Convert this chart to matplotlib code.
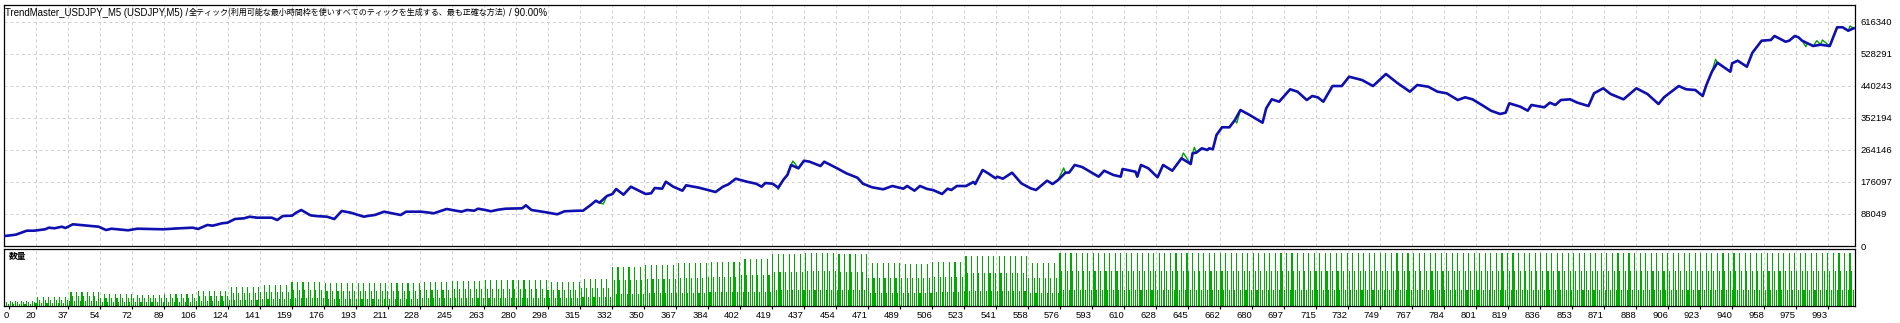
import numpy as np
import matplotlib
matplotlib.use("Agg")
import matplotlib.pyplot as plt

plt.rcParams['font.family'] = ['Liberation Sans', 'DejaVu Sans']

# balance curve (trade no, balance)
trades = [3, 9, 15, 19, 25, 27, 30, 34, 36, 40, 46, 54, 58, 61, 70, 75, 82, 89, 98, 105,
          108, 113, 116, 121, 124, 128, 133, 136, 140, 148, 151, 154, 159, 161, 164, 169, 172, 178, 182, 186,
          191, 198, 201, 204, 209, 218, 221, 229, 232, 236, 243, 249, 251, 254, 258, 260, 264, 267, 271, 275,
          284, 286, 289, 297, 303, 307, 314, 317, 321, 324, 326, 330, 333, 335, 339, 343, 351, 354, 356, 360,
          362, 366, 371, 373, 380, 389, 393, 396, 400, 406, 411, 414, 416, 420, 423, 426, 428, 430, 434, 437,
          440, 446, 448, 455, 460, 466, 469, 474, 480, 485, 491, 493, 497, 500, 504, 507, 512, 515, 517, 520,
          525, 529, 530, 534, 537, 541, 542, 545, 550, 555, 560, 563, 569, 572, 575, 579, 581, 584, 588, 597,
          600, 605, 609, 610, 617, 618, 620, 624, 629, 632, 637, 642, 647, 648, 650, 653, 656, 657, 659, 661,
          664, 668, 671, 674, 679, 686, 688, 691, 695, 701, 705, 710, 713, 716, 719, 724, 729, 733, 740, 746,
          753, 759, 766, 770, 776, 781, 786, 792, 796, 800, 806, 810, 815, 818, 820, 826, 830, 832, 837, 839,
          842, 845, 848, 853, 857, 863, 866, 871, 875, 882, 889, 895, 901, 904, 912, 916, 921, 925, 927, 930,
          933, 940, 941, 944, 949, 952, 957, 962, 964, 970, 972, 975, 977, 979, 982, 985, 989, 994, 998, 1001,
          1004, 1007]
balance = [27500, 31100, 42100, 42100, 46000, 50400, 48700, 53100, 49500, 59700, 57000, 53100, 44000, 47600, 43200, 47600, 46800, 46000, 48700, 50400,
           46800, 57800, 55900, 62500, 64100, 74300, 76200, 80600, 77900, 77900, 71500, 82500, 83400, 90800, 99100, 84500, 82500, 80600, 74300, 96300,
           91600, 80600, 83400, 85300, 94400, 85300, 94400, 94400, 92700, 90000, 101800, 96300, 94400, 99100, 97100, 102600, 99100, 95500, 99900, 102600,
           103700, 112000, 99100, 92700, 87200, 95500, 97100, 97100, 112000, 124600, 119100, 137600, 143100, 156800, 141200, 163200, 143100, 145000, 159600, 157700,
           176900, 163200, 152200, 167000, 160400, 148600, 163200, 169800, 185200, 176900, 171400, 163200, 173300, 171400, 160400, 183500, 195400, 222900, 213800, 234700,
           232000, 220100, 232000, 213800, 200000, 187900, 171400, 161500, 156000, 165100, 157700, 165100, 152200, 165100, 156800, 154100, 143100, 157700, 154100, 165100,
           165100, 176100, 170600, 209100, 200000, 186300, 190700, 185200, 201700, 172500, 158800, 154100, 179700, 170600, 181600, 201700, 202200, 222900, 217400, 190700,
           207200, 195400, 190700, 211900, 204400, 190700, 222900, 213800, 189000, 222900, 207200, 241300, 225600, 255100, 256700, 268800, 264100, 268800, 266100, 305400,
           326600, 326600, 346700, 374200, 360400, 339300, 378900, 403600, 397000, 431200, 424600, 401700, 412700, 409100, 397000, 440200, 440200, 465800, 456700, 440200,
           473300, 449300, 424600, 443000, 438300, 424600, 420200, 401700, 409100, 403600, 385200, 372300, 363200, 366800, 392600, 383300, 372300, 388000, 383300, 381600,
           394300, 388000, 401700, 403600, 394300, 385200, 420200, 433900, 418200, 403600, 433900, 418200, 390700, 409100, 440200, 431200, 429200, 412700, 443000, 479600,
           504300, 479600, 502700, 509900, 493300, 531900, 564900, 566800, 577800, 562100, 564900, 577800, 574200, 564900, 557700, 550300, 553900, 550300, 601800, 601800,
           592400, 599000]

# equity excursions that show up as green spikes
spike_trades = [328, 423, 431, 578, 643, 649, 672, 932, 981, 987, 990, 1005]
spike_values = [115600, 156000, 233900, 214600, 255900, 271600, 338400, 513700, 548400, 564900, 566800, 605300]

# tallest lot bar per label interval, and the lot cycle of the grid
vol_peak = [0.05, 0.09, 0.14, 0.12, 0.11, 0.12, 0.15, 0.19, 0.21, 0.24, 0.23, 0.23, 0.23, 0.24, 0.25, 0.26,
            0.26, 0.24, 0.27, 0.39, 0.41, 0.43, 0.44, 0.47, 0.52, 0.53, 0.52, 0.43, 0.42, 0.44, 0.50, 0.50,
            0.43] + [0.53] * 25
lot_cycle = [1.0, 0.65, 0.3]

xtick_labels = ["0", "20", "37", "54", "72", "89", "106", "124", "141", "159", "176", "193", "211", "228",
                "245", "263", "280", "298", "315", "332", "350", "367", "384", "402", "419", "437", "454",
                "471", "489", "506", "523", "541", "558", "576", "593", "610", "628", "645", "662", "680",
                "697", "715", "732", "749", "767", "784", "801", "819", "836", "853", "871", "888", "906",
                "923", "940", "958", "975", "993"]
y_ticks = [0, 88049, 176097, 264146, 352194, 440243, 528291, 616340]

title1 = "TrendMaster_USDJPY_M5 (USDJPY,M5) / "
title2 = "全ティック(利用可能な最小時間枠を使いすべてのティックを生成する、最も正確な方法)"
title3 = "/ 90.00%"

W, H = 1900, 323
def box(l, t, r, b):
    return [l / W, 1 - b / H, (r - l) / W, (b - t) / H]

fig = plt.figure(figsize=(W / 100, H / 100), dpi=100)
ax = fig.add_axes(box(4, 4.5, 1855, 246))
axv = fig.add_axes(box(4, 248.5, 1855, 305.5))

x_lo, x_hi = 2.625, 1007.7
grid_t = 20 + 17.375 * np.arange(57)

for a in (ax, axv):
    a.set_xlim(x_lo, x_hi)
    for g in grid_t:
        a.axvline(g, color='#cfcfcf', lw=0.7, ls=(0, (3, 3)), zorder=0)
    for s in a.spines.values():
        s.set_linewidth(0.9)
        s.set_color('black')

for v in y_ticks[1:]:
    ax.axhline(v, color='#cfcfcf', lw=0.7, ls=(0, (3, 3)), zorder=0)

# equity = balance with the spikes merged in
eq_t = np.array(trades + spike_trades)
eq_v = np.array(balance + spike_values)
order = np.argsort(eq_t, kind='stable')
ax.plot(eq_t[order], eq_v[order], color='#00a000', lw=1.0, zorder=2)
ax.plot(trades, balance, color='#1010b0', lw=1.9, zorder=3)

ax.set_ylim(0, 664490)
ax.yaxis.tick_right()
ax.set_yticks(y_ticks)
ax.set_yticklabels([str(v) for v in y_ticks])
ax.tick_params(axis='y', length=0, pad=4, labelsize=6.8)
ax.set_xticks([])

# volume histogram, one bar per trade
bar_t = np.arange(3, 1008)
seg = np.clip(((bar_t - x_lo) // 17.375).astype(int), 0, len(vol_peak) - 1)
lots = np.array(vol_peak)[seg] * np.array(lot_cycle)[bar_t % 3]
axv.bar(bar_t, lots, width=0.6, color='#00aa00', linewidth=0, antialiased=False, zorder=2)
axv.set_ylim(0, 0.576)
axv.set_yticks([])
axv.set_xticks([5.3] + list(grid_t))
axv.set_xticklabels(xtick_labels)
for lbl in axv.get_xticklabels():
    lbl.set_ha('right')
axv.tick_params(axis='x', length=2, pad=2, labelsize=6.8)

axv.text(5 / 1851, 0.86, "数量", transform=axv.transAxes, fontsize=6.3, fontweight='bold',
         family=['Noto Sans CJK JP', 'DejaVu Sans'], va='center', ha='left')

fig.text(5 / W, 1 - 12.5 / H, title1, fontsize=6.9, va='center', ha='left')
fig.text(189 / W, 1 - 12.5 / H, title2, fontsize=5.8, va='center', ha='left',
         family=['Noto Sans CJK JP', 'DejaVu Sans'])
fig.text(509 / W, 1 - 12.5 / H, title3, fontsize=6.9, va='center', ha='left')

fig.savefig("out.png", dpi=100)
